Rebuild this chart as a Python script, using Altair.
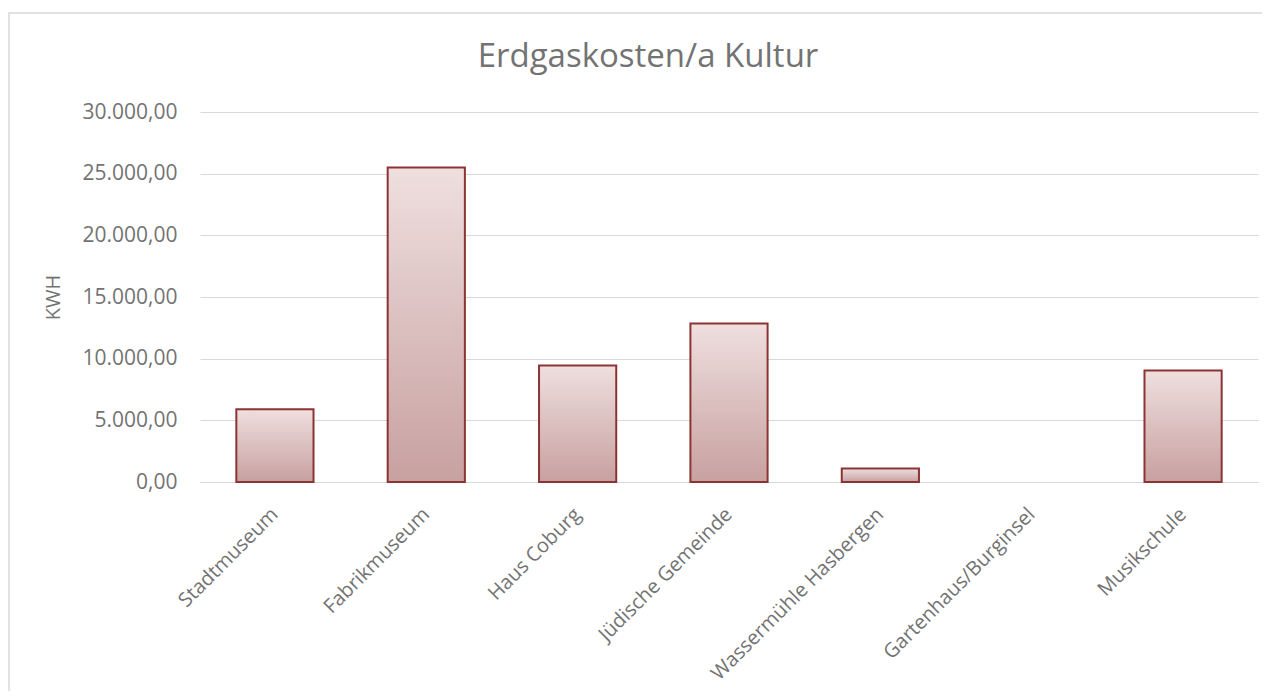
import altair as alt
import pandas as pd

categories = ["Stadtmuseum", "Fabrikmuseum", "Haus Coburg", "Jüdische Gemeinde",
              "Wassermühle Hasbergen", "Gartenhaus/Burginsel", "Musikschule"]
values = [5900, 25500, 9450, 12850, 1100, 0, 9050]
y_ticks = [0, 5000, 10000, 15000, 20000, 25000, 30000]
title_text = "Erdgaskosten/a Kultur"

df = pd.DataFrame({"Objekt": categories, "KWH": values})

W, H = 1058, 370
FONT = "Open Sans"
GRAY = "#737373"

label_expr = ("replace(replace(replace(format(datum.value, ',.2f'), ',', '_'), '.', ','), '_', '.')")

bars = alt.Chart(df).mark_bar(
    color=alt.Gradient(
        gradient="linear",
        stops=[alt.GradientStop(color="#efdfdf", offset=0),
               alt.GradientStop(color="#c8a0a0", offset=1)],
        x1=1, x2=1, y1=0, y2=1),
    stroke="#8c3434",
    strokeWidth=2,
).encode(
    x=alt.X("Objekt:N", sort=categories,
            scale=alt.Scale(paddingInner=0.49, paddingOuter=0.24),
            axis=alt.Axis(title=None, labelAngle=-45, labelAlign="right",
                          labelBaseline="middle", labelFontSize=20, labelFont=FONT,
                          labelColor=GRAY, ticks=False, domain=True,
                          domainColor="#d9d9d9", labelPadding=29, labelLimit=400)),
    y=alt.Y("KWH:Q", scale=alt.Scale(domain=[0, 30000], nice=False),
            axis=alt.Axis(values=y_ticks, labelExpr=label_expr, title="KWH",
                          titleFont=FONT, titleFontSize=20, titleFontWeight="normal",
                          titleColor=GRAY, titlePadding=18,
                          labelFont=FONT, labelFontSize=21, labelColor=GRAY,
                          ticks=False, domain=False, labelPadding=23,
                          gridColor="#d9d9d9", gridWidth=1)),
    strokeOpacity=alt.condition("datum.KWH == 0", alt.value(0), alt.value(1)),
)

border = alt.Chart(pd.DataFrame({"b": [0]})).mark_rect(
    fill=None, stroke="#d9d9d9", strokeWidth=1.5
).encode(
    x=alt.value(-191), x2=alt.value(W + 40),
    y=alt.value(-99), y2=alt.value(H + 260),
)

title = alt.Chart(pd.DataFrame({"t": [title_text]})).mark_text(
    font=FONT, fontSize=33, color=GRAY, align="center", baseline="alphabetic"
).encode(
    text="t:N", x=alt.value(448), y=alt.value(-45),
)

chart = alt.layer(border, bars, title).properties(
    width=W, height=H,
    autosize=alt.AutoSizeParams(type="none"),
    padding={"left": 192, "top": 104, "right": 4, "bottom": 209},
).configure(background="white").configure_view(stroke=None)

chart.save("out.html", embed_options={"renderer": "svg", "actions": False})
